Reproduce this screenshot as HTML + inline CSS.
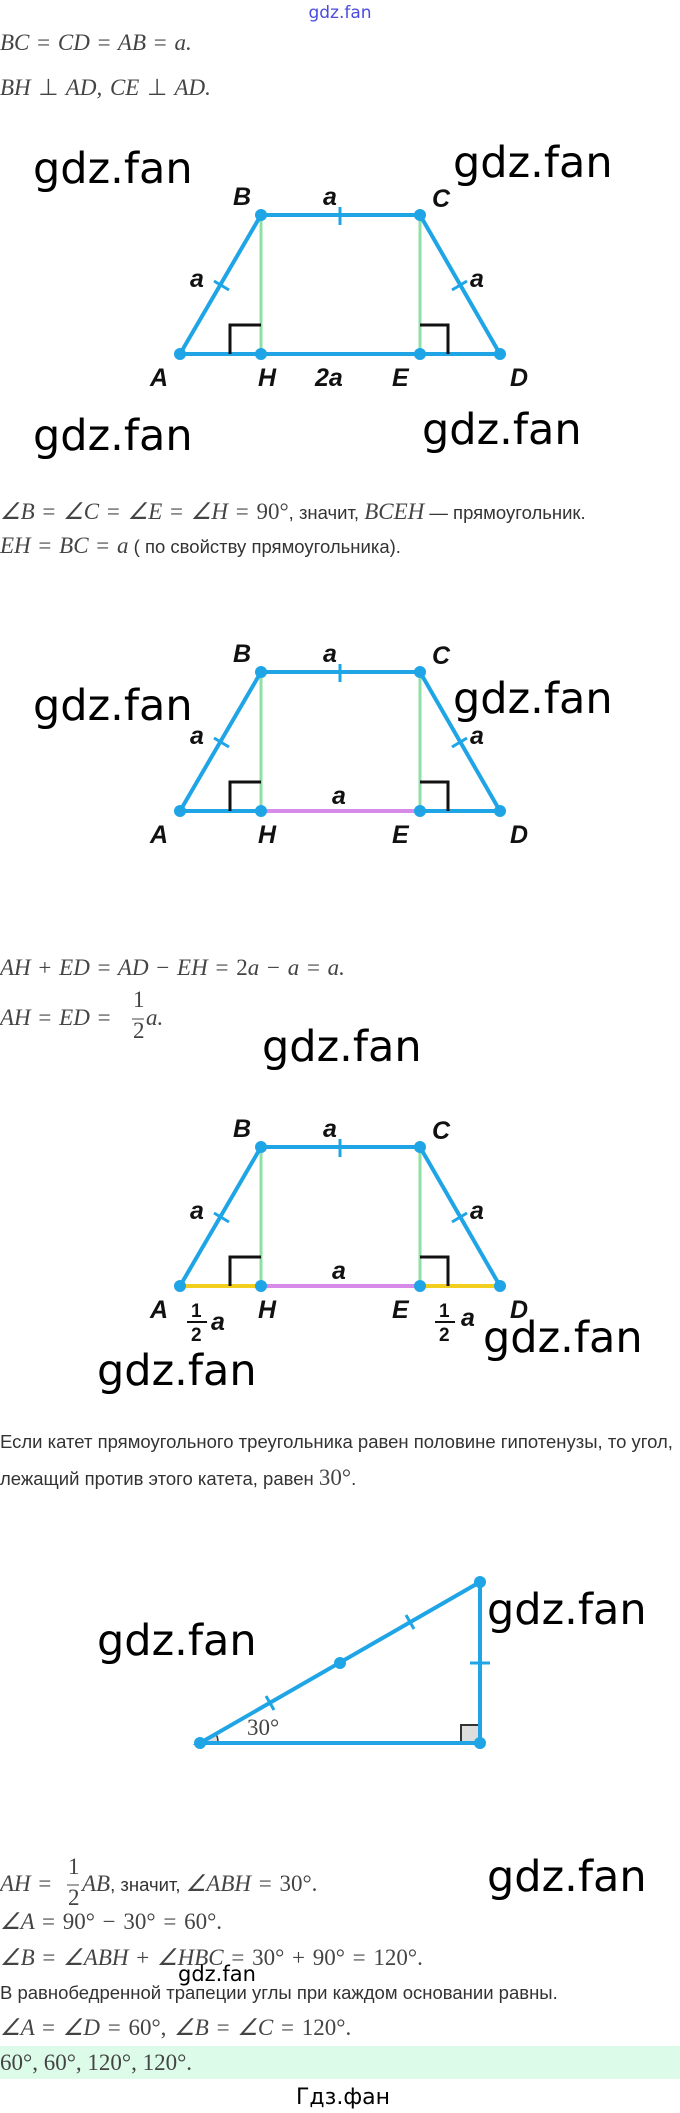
<!DOCTYPE html>
<html><head><meta charset="utf-8"><style>
html,body{margin:0;padding:0;background:#fff;}
svg{display:block}
.m{font-family:"Liberation Serif",serif;font-style:italic;font-size:23px;fill:#444;word-spacing:2px}
.mr{font-family:"Liberation Serif",serif;font-style:normal;font-size:23px;fill:#444}
.t{font-family:"Liberation Sans","DejaVu Sans",sans-serif;font-style:normal;font-size:18.5px;fill:#333;word-spacing:0}
.w{font-family:"DejaVu Sans",sans-serif;font-size:43px;fill:#000}
.l{font-family:"Liberation Sans",sans-serif;font-style:italic;font-weight:bold;font-size:25px;fill:#111}
</style></head><body>
<svg width="680" height="2113" viewBox="0 0 680 2113" xmlns="http://www.w3.org/2000/svg">
<defs>
<g id="trap">
  <line x1="261" y1="0" x2="261" y2="139" stroke="#8fe0a4" stroke-width="3"/>
  <line x1="420" y1="0" x2="420" y2="139" stroke="#8fe0a4" stroke-width="3"/>
  <polyline points="230,139 230,110 261,110" fill="none" stroke="#111" stroke-width="3"/>
  <polyline points="420,110 448,110 448,139" fill="none" stroke="#111" stroke-width="3"/>
  <polyline points="180,139 261,0 420,0 500,139" fill="none" stroke="#1fa5e6" stroke-width="4"/>
  <line x1="340" y1="-8" x2="340" y2="10" stroke="#1fa5e6" stroke-width="3"/>
  <line x1="214" y1="66" x2="229" y2="75" stroke="#1fa5e6" stroke-width="3"/>
  <line x1="452" y1="75" x2="467" y2="66" stroke="#1fa5e6" stroke-width="3"/>
  <text class="l" x="233" y="-10">B</text>
  <text class="l" x="323" y="-10">a</text>
  <text class="l" x="432" y="-8">C</text>
  <text class="l" x="190" y="72">a</text>
  <text class="l" x="470" y="72">a</text>
  <text class="l" x="150" y="171">A</text>
  <text class="l" x="258" y="171">H</text>
  <text class="l" x="392" y="171">E</text>
  <text class="l" x="510" y="171">D</text>
</g>
<g id="dots" fill="#1fa5e6">
  <circle cx="180" cy="139" r="6"/><circle cx="261" cy="139" r="6"/><circle cx="420" cy="139" r="6"/><circle cx="500" cy="139" r="6"/>
  <circle cx="261" cy="0" r="6"/><circle cx="420" cy="0" r="6"/>
</g>
</defs>

<text x="340" y="18" text-anchor="middle" font-family="DejaVu Sans,sans-serif" font-size="17" fill="#4a4ae0">gdz.fan</text>
<text class="m" x="0" y="50">BC <tspan class="mr">=</tspan> CD <tspan class="mr">=</tspan> AB <tspan class="mr">=</tspan> a.</text>
<text class="m" x="0" y="95">BH <tspan class="mr">⊥</tspan> AD, CE <tspan class="mr">⊥</tspan> AD.</text>

<g transform="translate(0,215)">
  <line x1="180" y1="139" x2="500" y2="139" stroke="#1fa5e6" stroke-width="4"/>
  <use href="#trap"/><use href="#dots"/>
  <text class="l" x="315" y="171">2a</text>
</g>
<text class="w" x="33" y="183">gdz.fan</text>
<text class="w" x="453" y="177">gdz.fan</text>
<text class="w" x="33" y="450">gdz.fan</text>
<text class="w" x="422" y="444">gdz.fan</text>

<text class="m" x="0" y="519">∠B <tspan class="mr">=</tspan> ∠C <tspan class="mr">=</tspan> ∠E <tspan class="mr">=</tspan> ∠H <tspan class="mr">= 90°</tspan><tspan class="t">, значит, </tspan>BCEH<tspan class="t"> — прямоугольник.</tspan></text>
<text class="m" x="0" y="553">EH <tspan class="mr">=</tspan> BC <tspan class="mr">=</tspan> a<tspan class="t"> ( по свойству прямоугольника).</tspan></text>

<g transform="translate(0,672)">
  <line x1="180" y1="139" x2="261" y2="139" stroke="#1fa5e6" stroke-width="4"/>
  <line x1="420" y1="139" x2="500" y2="139" stroke="#1fa5e6" stroke-width="4"/>
  <line x1="261" y1="139" x2="420" y2="139" stroke="#d78be8" stroke-width="4"/>
  <use href="#trap"/><use href="#dots"/>
  <text class="l" x="332" y="132">a</text>
</g>
<text class="w" x="33" y="720">gdz.fan</text>
<text class="w" x="453" y="713">gdz.fan</text>

<text class="m" x="0" y="975">AH <tspan class="mr">+</tspan> ED <tspan class="mr">=</tspan> AD <tspan class="mr">−</tspan> EH <tspan class="mr">= 2</tspan>a <tspan class="mr">−</tspan> a <tspan class="mr">=</tspan> a.</text>
<text class="m" x="0" y="1025">AH <tspan class="mr">=</tspan> ED <tspan class="mr">=</tspan></text>
<text class="mr" x="133" y="1007" font-size="17">1</text>
<line x1="132" y1="1019" x2="144" y2="1019" stroke="#444" stroke-width="1"/>
<text class="mr" x="133" y="1038" font-size="17">2</text>
<text class="m" x="146" y="1025">a.</text>
<text class="w" x="262" y="1061">gdz.fan</text>

<g transform="translate(0,1147)">
  <line x1="180" y1="139" x2="261" y2="139" stroke="#f2cf1e" stroke-width="4"/>
  <line x1="420" y1="139" x2="500" y2="139" stroke="#f2cf1e" stroke-width="4"/>
  <line x1="261" y1="139" x2="420" y2="139" stroke="#d78be8" stroke-width="4"/>
  <use href="#trap"/><use href="#dots"/>
  <text class="l" x="332" y="132">a</text>
</g>
<g font-family="Liberation Sans,sans-serif" font-weight="bold" font-size="19" fill="#111">
  <text x="191" y="1317">1</text><line x1="187" y1="1322" x2="207" y2="1322" stroke="#111" stroke-width="2"/><text x="191" y="1341">2</text>
  <text x="439" y="1317">1</text><line x1="435" y1="1322" x2="455" y2="1322" stroke="#111" stroke-width="2"/><text x="439" y="1341">2</text>
</g>
<text class="l" x="211" y="1330">a</text>
<text class="l" x="461" y="1326">a</text>
<text class="w" x="483" y="1352">gdz.fan</text>
<text class="w" x="97" y="1385">gdz.fan</text>

<text class="t" x="0" y="1448">Если катет прямоугольного треугольника равен половине гипотенузы, то угол,</text>
<text class="t" x="0" y="1485">лежащий против этого катета, равен <tspan class="mr" font-size="21">30°</tspan>.</text>

<path d="M200,1743 L218,1743 A18,18 0 0 0 216.5,1735 Z" fill="#ddd" stroke="#333" stroke-width="1.5"/>
<rect x="461" y="1725" width="19" height="18" fill="#ddd" stroke="#333" stroke-width="2"/>
<polygon points="200,1743 480,1743 480,1582" fill="none" stroke="#1fa5e6" stroke-width="4"/>
<line x1="266" y1="1696" x2="274" y2="1710" stroke="#1fa5e6" stroke-width="3"/>
<line x1="406" y1="1615" x2="414" y2="1629" stroke="#1fa5e6" stroke-width="3"/>
<line x1="470" y1="1663" x2="490" y2="1663" stroke="#1fa5e6" stroke-width="3"/>
<g fill="#1fa5e6"><circle cx="200" cy="1743" r="6"/><circle cx="480" cy="1743" r="6"/><circle cx="480" cy="1582" r="6"/><circle cx="340" cy="1663" r="6"/></g>
<text class="mr" x="247" y="1735" font-size="21" fill="#111">30°</text>
<text class="w" x="97" y="1655">gdz.fan</text>
<text class="w" x="487" y="1624">gdz.fan</text>
<text class="w" x="487" y="1891">gdz.fan</text>

<text class="m" x="0" y="1891">AH <tspan class="mr">=</tspan></text>
<text class="mr" x="68" y="1874" font-size="17">1</text>
<line x1="67" y1="1885" x2="79" y2="1885" stroke="#444" stroke-width="1"/>
<text class="mr" x="68" y="1905" font-size="17">2</text>
<text class="m" x="82" y="1891">AB<tspan class="t">, значит, </tspan>∠ABH <tspan class="mr">= 30°.</tspan></text>
<text class="m" x="0" y="1929">∠A <tspan class="mr">= 90° − 30° = 60°.</tspan></text>
<text class="m" x="0" y="1965">∠B <tspan class="mr">=</tspan> ∠ABH <tspan class="mr">+</tspan> ∠HBC <tspan class="mr">= 30° + 90° = 120°.</tspan></text>
<text x="178" y="1981" font-family="DejaVu Sans,sans-serif" font-size="21" fill="#000">gdz.fan</text>
<text class="t" x="0" y="1999">В равнобедренной трапеции углы при каждом основании равны.</text>
<text class="m" x="0" y="2035">∠A <tspan class="mr">=</tspan> ∠D <tspan class="mr">= 60°,</tspan> ∠B <tspan class="mr">=</tspan> ∠C <tspan class="mr">= 120°.</tspan></text>
<rect x="0" y="2046" width="680" height="33" fill="#dcfbe9"/>
<text class="mr" x="0" y="2070">60°, 60°, 120°, 120°.</text>
<text x="343" y="2104" text-anchor="middle" font-family="DejaVu Sans,sans-serif" font-size="22" fill="#000">Гдз.фан</text>
</svg>
</body></html>
